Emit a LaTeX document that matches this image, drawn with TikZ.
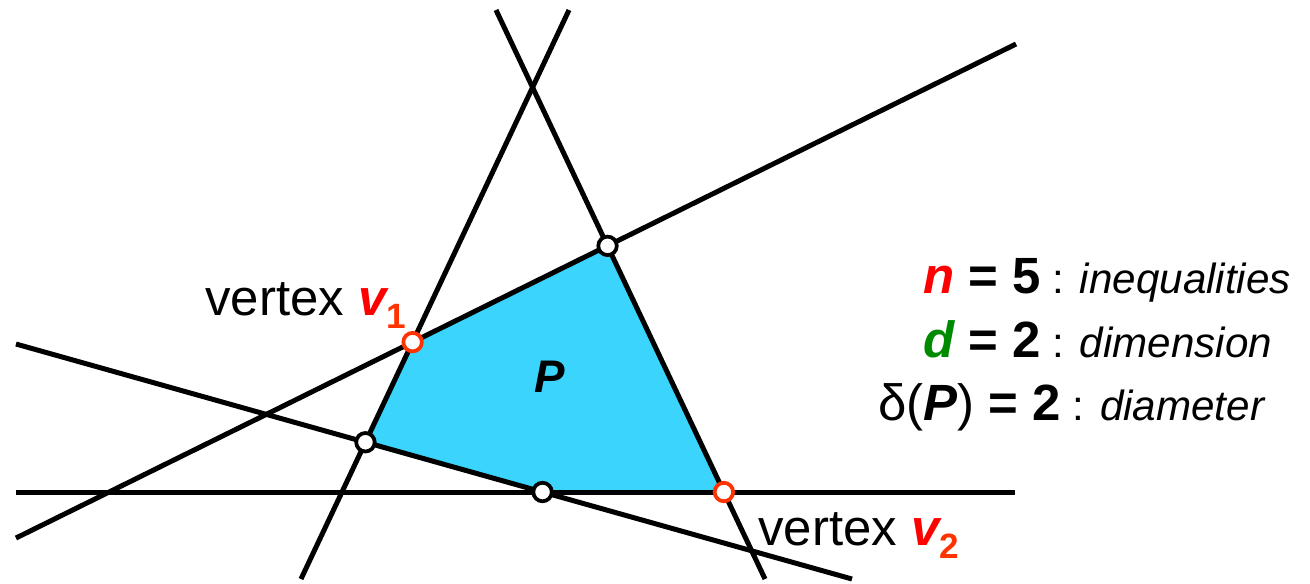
\documentclass[tikz,border=0pt]{standalone}
\usepackage{fontspec}
\setmainfont{Liberation Sans}
\definecolor{my_cyan}{HTML}{3AD4FC}
\definecolor{my_red}{HTML}{FF0000}
\definecolor{my_orange}{HTML}{FF3300}
\definecolor{my_green}{HTML}{008A00}
\newcommand{\vsub}[1]{\raisebox{-0.26em}{\fontsize{20}{24}\selectfont\textbf{\color{my_orange}#1}}}
\newcommand{\bv}{\textbf{\textit{\color{my_red}v}}}
\newcommand{\bigpart}[1]{{\fontsize{29}{34}\selectfont\bfseries #1}}

\begin{document}
\begin{tikzpicture}[
    x=0.02cm, y=-0.02cm,
    halfplane/.style={line width=0.1cm, black, line cap=butt},
    corner/.style={circle, draw=black, fill=white, line width=0.075cm,
        inner sep=0pt, minimum size=0.37cm},
    chosen/.style={corner, draw=my_orange},
    vlabel/.style={anchor=base west, inner sep=0pt, font=\fontsize{29}{34}\selectfont},
    info/.style={anchor=base west, inner sep=0pt, font=\fontsize{24}{28}\selectfont}
]
\useasboundingbox (0, 0) rectangle (1310, 583);

% ---------------------------------------------------------------
%  Fuenf Halbebenen, ihr Schnitt ist das Polygon P (cyan)
%  v1, v2: zwei Ecken mit Abstand 2 im Kantengraphen
% ---------------------------------------------------------------

% ---- Endpunkte der Geraden ----
\coordinate (h_w) at (16, 492);   \coordinate (h_e) at (1015, 492);
\coordinate (s_w) at (16, 344);   \coordinate (s_e) at (852, 579);
\coordinate (r_w) at (16, 538);   \coordinate (r_e) at (1016, 44);
\coordinate (lf_s) at (301, 579); \coordinate (lf_n) at (569, 10);
\coordinate (rt_n) at (496, 10);  \coordinate (rt_s) at (765, 579);

% ---- Ecken von P ----
\coordinate (pa) at (intersection of s_w--s_e and lf_s--lf_n);
\coordinate (pv1) at (intersection of r_w--r_e and lf_s--lf_n);
\coordinate (pb) at (intersection of r_w--r_e and rt_n--rt_s);
\coordinate (pv2) at (intersection of rt_n--rt_s and h_w--h_e);
\coordinate (pc) at (intersection of s_w--s_e and h_w--h_e);

\fill[my_cyan] (pa) -- (pv1) -- (pb) -- (pv2) -- (pc) -- cycle;

% ---- Geraden ----
\draw[halfplane] (h_w) -- (h_e);
\draw[halfplane] (s_w) -- (s_e);
\draw[halfplane] (r_w) -- (r_e);
\draw[halfplane] (lf_s) -- (lf_n);
\draw[halfplane] (rt_n) -- (rt_s);

% ---- Ecken ----
\node[corner] (a) at (pa) {};
\node[corner] (b) at (pb) {};
\node[corner] (c) at (pc) {};
\node[chosen] (v1) at (pv1) {};
\node[chosen] (v2) at (pv2) {};

\node[font=\fontsize{26}{30}\selectfont\bfseries\itshape] (P) at (550, 377) {P};

% ---- Beschriftungen ----
\node[vlabel] (lv1) at (205, 315) {vertex \bv\vsub{1}};
\node[vlabel] (lv2) at (758, 545) {vertex \bv\vsub{2}};

\node[info] (n) at (923, 293)
    {\bigpart{\textit{\color{my_red}n} = 5} : \textit{inequalities}};
\node[info] (d) at (923, 357)
    {\bigpart{\textit{\color{my_green}d} = 2} : \textit{dimension}};
\node[info] (diam) at (878, 420)
    {\bigpart{{\mdseries δ(}\textit{P}{\mdseries )} = 2} : \textit{diameter}};

\end{tikzpicture}
\end{document}
